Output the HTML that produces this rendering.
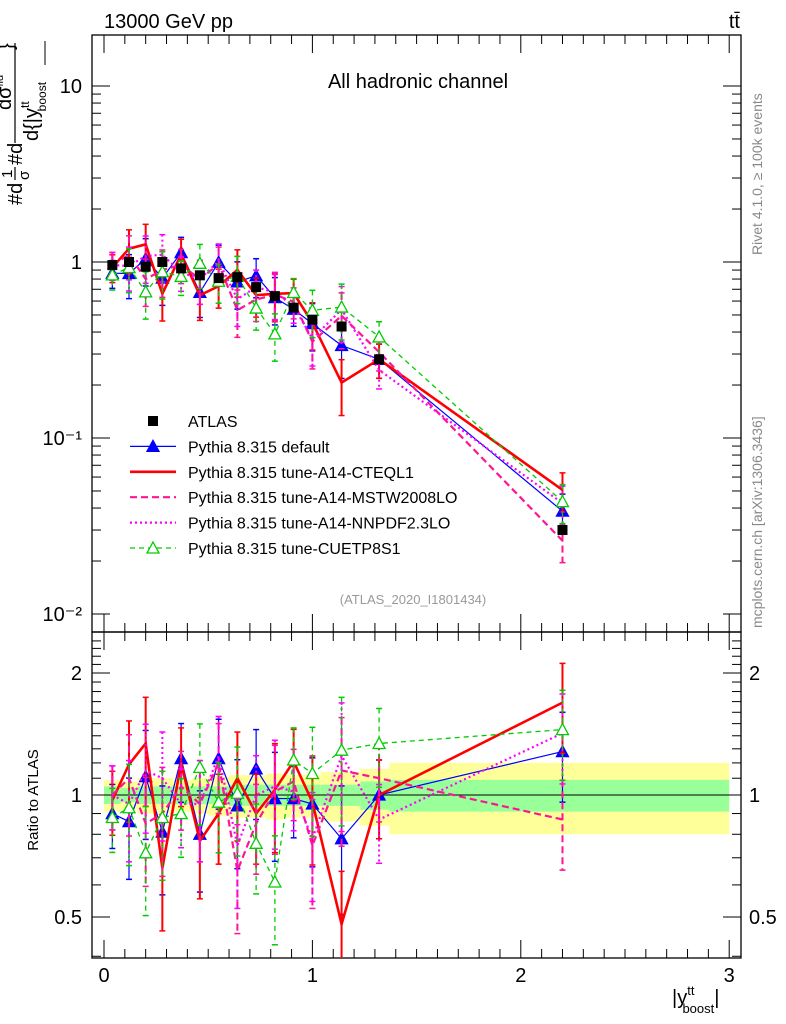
<!DOCTYPE html>
<html><head><meta charset="utf-8"><style>
html,body{margin:0;padding:0;background:#fff;}
svg{display:block;font-family:"Liberation Sans",sans-serif;}
</style></head><body>
<svg id="chart" width="786" height="1024" viewBox="0 0 786 1024">
<text x="104" y="28" font-size="20">13000 GeV pp</text>
<text x="740" y="28" font-size="20" text-anchor="end">tt̄</text>
<text x="418" y="88" font-size="20" text-anchor="middle">All hadronic channel</text>
<text x="413" y="604" font-size="13" fill="#999" text-anchor="middle">(ATLAS_2020_I1801434)</text>
<text transform="translate(762,255) rotate(-90)" font-size="14" fill="#888">Rivet 4.1.0, ≥ 100k events</text>
<text transform="translate(762,628) rotate(-90)" font-size="14" fill="#888">mcplots.cern.ch [arXiv:1306.3436]</text>
<g transform="translate(15,205) rotate(-90)">
 <text x="0" y="7" font-size="20">#d</text>
 <text x="27" y="-3" font-size="15">1</text>
 <line x1="25" x2="38" y1="0" y2="0" stroke="#000" stroke-width="1.2"/>
 <text x="25" y="14" font-size="15">σ</text>
 <text x="40" y="7" font-size="20">#d</text>
 <line x1="62" x2="162" y1="0" y2="0" stroke="#000" stroke-width="1.2"/>
 <text x="95" y="-4" font-size="20">dσ<tspan font-size="11" dy="-8">fid</tspan></text>
 <text x="64" y="23" font-size="20">d{|y<tspan font-size="12" dy="-9">tt</tspan><tspan font-size="12" dy="17" dx="-10">boost</tspan></text>
 <text x="155" y="-2" font-size="20">}</text>
 <line x1="140" x2="164" y1="30" y2="30" stroke="#000" stroke-width="1"/>
</g>
<text transform="translate(38,800) rotate(-90)" font-size="15" text-anchor="middle">Ratio to ATLAS</text>
<text x="672" y="1004" font-size="20">|y<tspan font-size="13" dy="-9">tt</tspan><tspan font-size="13" dy="18" dx="-12">boost</tspan><tspan dy="-9">|</tspan></text>
<g id="g"></g>
</svg>
<script>
// ---- data ----
const xCenters=[0.04,0.12,0.2,0.28,0.37,0.46,0.55,0.64,0.73,0.82,0.91,1.0,1.14,1.32,2.2];
const atlasValues=[0.96,1.0,0.94,1.0,0.92,0.84,0.81,0.82,0.72,0.64,0.55,0.47,0.43,0.28,0.03];
const ratioDefault=[0.90,0.86,1.11,0.81,1.23,0.80,1.23,0.94,1.16,0.98,0.98,0.95,0.78,1.0,1.28];
const ratioCTEQ=[0.97,1.19,1.34,0.66,1.20,0.77,0.90,1.10,0.90,1.03,1.21,0.96,0.48,1.0,1.69];
const ratioMSTW=[1.0,1.1,0.85,0.9,1.05,0.95,1.2,0.65,0.85,1.02,1.08,0.75,1.15,1.1,0.87];
const ratioNNPDF=[1.0,0.95,1.15,1.1,0.95,0.95,1.25,0.75,1.0,1.05,1.02,0.78,1.25,0.87,1.42];
const ratioCUETP=[0.88,0.93,0.72,0.88,0.90,1.17,0.96,1.01,0.76,0.61,1.22,1.13,1.29,1.34,1.45];
const relErr=[0.18,0.28,0.3,0.3,0.22,0.28,0.25,0.3,0.25,0.3,0.2,0.3,0.35,0.22,0.25];
const bandEdges=[0,0.08,0.16,0.24,0.33,0.42,0.5,0.6,0.68,0.78,0.86,0.96,1.04,1.23,1.37,3.0];
const bandYellow=[0.09,0.08,0.1,0.1,0.09,0.1,0.11,0.12,0.12,0.13,0.12,0.12,0.14,0.16,0.2];
const bandGreen=[0.05,0.04,0.05,0.05,0.05,0.05,0.05,0.06,0.06,0.06,0.06,0.06,0.06,0.08,0.09];
const mainTicks=[0.01,0.1,1,10];
const mainTickLabels=["10⁻²","10⁻¹","1","10"];
const xTicks=[0,1,2,3];
const ratioTicks=[0.5,1,2];
// ---- geometry ----
const L=92,R=741,T=35,M=632,B=958;
const X=v=>104+v*208.4;
const Y=v=>262-176*Math.log10(v);
const YR=v=>795-122*Math.log2(v);
const NS="http://www.w3.org/2000/svg";
const g=document.getElementById('g');
function el(tag,attrs,parent){const e=document.createElementNS(NS,tag);for(const k in attrs)e.setAttribute(k,attrs[k]);(parent||g).appendChild(e);return e;}
const defs=el('defs',{});
const c1=el('clipPath',{id:'cm'},defs);el('rect',{x:L,y:T,width:R-L,height:M-T},c1);
const c2=el('clipPath',{id:'cr'},defs);el('rect',{x:L,y:M,width:R-L,height:B-M},c2);
const gb=el('g',{'clip-path':'url(#cr)'});
for(let i=0;i<bandYellow.length;i++){
  const x0=X(bandEdges[i]),x1=X(bandEdges[i+1]);
  const y=el('rect',{x:x0,y:YR(1+bandYellow[i]),width:x1-x0,height:YR(1-bandYellow[i])-YR(1+bandYellow[i]),fill:'#ffff99'},gb);
  
  
  const gr=el('rect',{x:x0,y:YR(1+bandGreen[i]),width:x1-x0,height:YR(1-bandGreen[i])-YR(1+bandGreen[i]),fill:'#99ff99'},gb);
  
  
}
el('line',{x1:L,x2:R,y1:YR(1),y2:YR(1),stroke:'#000','stroke-width':1},gb);
el('rect',{x:L,y:T,width:R-L,height:M-T,fill:'none',stroke:'#000','stroke-width':1.3});
el('rect',{x:L,y:M,width:R-L,height:B-M,fill:'none',stroke:'#000','stroke-width':1.3});
for(let d=-2;d<=1;d++){for(let k=1;k<10;k++){const v=k*Math.pow(10,d);const y=Y(v);if(y<T||y>M)continue;const len=k==1?18:9;
 el('line',{x1:L,x2:L+len,y1:y,y2:y,stroke:'#000'});el('line',{x1:R,x2:R-len,y1:y,y2:y,stroke:'#000'});}}
mainTicks.forEach((v,i)=>{const t=el('text',{x:L-10,y:Y(v)+7,'font-size':20,'text-anchor':'end'});t.textContent=mainTickLabels[i];
 
 });
for(let v=0.4;v<=2.5;v+=0.1){const y=YR(v);if(y<M||y>B)continue;const major=[0.5,1,2].some(m=>Math.abs(m-v)<1e-6);const len=major?18:9;
 el('line',{x1:L,x2:L+len,y1:y,y2:y,stroke:'#000'});el('line',{x1:R,x2:R-len,y1:y,y2:y,stroke:'#000'});}
ratioTicks.forEach(v=>{const a=el('text',{x:L-10,y:YR(v)+7,'font-size':20,'text-anchor':'end'});a.textContent=String(v);
 
 
 const b=el('text',{x:R+8,y:YR(v)+7,'font-size':20});b.textContent=String(v);
 
 });
for(let v=0;v<=3.0001;v+=0.1){const x=X(v);if(x>R)continue;const major=Math.abs(v-Math.round(v))<1e-6;const len=major?18:9;
 [T,M].forEach(y0=>el('line',{x1:x,x2:x,y1:y0,y2:y0+len,stroke:'#000'}));
 [M,B].forEach(y0=>el('line',{x1:x,x2:x,y1:y0,y2:y0-len,stroke:'#000'}));}
xTicks.forEach(v=>{const t=el('text',{x:X(v),y:982,'font-size':20,'text-anchor':'middle'});t.textContent=String(v);
 
 });
const series=[
 {name:'default',r:ratioDefault,col:'#0000ff',w:1.2,dash:'',mk:'tri'},
 {name:'cteql1',r:ratioCTEQ,col:'#ff0000',w:2.6,dash:'',mk:'none'},
 {name:'mstw',r:ratioMSTW,col:'#ff1493',w:2.2,dash:'7,4',mk:'none'},
 {name:'nnpdf',r:ratioNNPDF,col:'#ff00ff',w:2.2,dash:'2,3',mk:'none'},
 {name:'cuetp',r:ratioCUETP,col:'#00cc00',w:1.3,dash:'5,4',mk:'otri'}];
function tri(x,y,s,parent,fill,col){return el('path',{d:`M${x},${y-6}L${x+6},${y+5}L${x-6},${y+5}Z`,fill:fill,stroke:col,'stroke-width':1.3},parent);}
series.forEach(s=>{
 [['main','cm'],['ratio','cr']].forEach(([pan,clip])=>{
  const grp=el('g',{'clip-path':`url(#${clip})`});
  
  
  const yv=i=>pan=='main'?Y(atlasValues[i]*s.r[i]):YR(s.r[i]);
  const ye=(i,f)=>pan=='main'?Y(atlasValues[i]*s.r[i]*f):YR(s.r[i]*f);
  xCenters.forEach((xv,i)=>{const x=X(xv);
   el('line',{x1:x,x2:x,y1:ye(i,1+relErr[i]),y2:ye(i,1-relErr[i]),stroke:s.col,'stroke-width':Math.min(s.w,2),'stroke-dasharray':s.dash},grp);
   [1+relErr[i],1-relErr[i]].forEach(f=>el('line',{x1:x-3,x2:x+3,y1:ye(i,f),y2:ye(i,f),stroke:s.col,'stroke-width':1.5},grp));});
  const pts=xCenters.map((xv,i)=>X(xv)+','+yv(i)).join(' ');
  el('polyline',{points:pts,fill:'none',stroke:s.col,'stroke-width':s.w,'stroke-dasharray':s.dash},grp);
  if(s.mk!='none')xCenters.forEach((xv,i)=>{const m=tri(X(xv),yv(i),6,grp,s.mk=='tri'?s.col:'#fff',s.col);
   
   });
 });
});
const ga=el('g',{'clip-path':'url(#cm)'});


xCenters.forEach((xv,i)=>{const m=el('rect',{x:X(xv)-5,y:Y(atlasValues[i])-5,width:10,height:10,fill:'#000'},ga);
 
 });
const legend=[['ATLAS','#000','', 'sq',0],['Pythia 8.315 default','#0000ff','','tri',1.2],['Pythia 8.315 tune-A14-CTEQL1','#ff0000','','none',2.6],
 ['Pythia 8.315 tune-A14-MSTW2008LO','#ff1493','7,4','none',2.2],['Pythia 8.315 tune-A14-NNPDF2.3LO','#ff00ff','2,3','none',2.2],['Pythia 8.315 tune-CUETP8S1','#00cc00','5,4','otri',1.3]];
legend.forEach((e,i)=>{const y=421+i*25.4;const lg=el('g',{});
 
 
 if(e[4])el('line',{x1:130,x2:176,y1:y,y2:y,stroke:e[1],'stroke-width':e[4],'stroke-dasharray':e[2]},lg);
 if(e[3]=='sq')el('rect',{x:148,y:y-5,width:10,height:10,fill:'#000'},lg);
 if(e[3]=='tri')tri(153,y,6,lg,e[1],e[1]);
 if(e[3]=='otri')tri(153,y,6,lg,'#fff',e[1]);
 const t=el('text',{x:188,y:y+6,'font-size':16},lg);t.textContent=e[0];});
</script>
</body></html>
